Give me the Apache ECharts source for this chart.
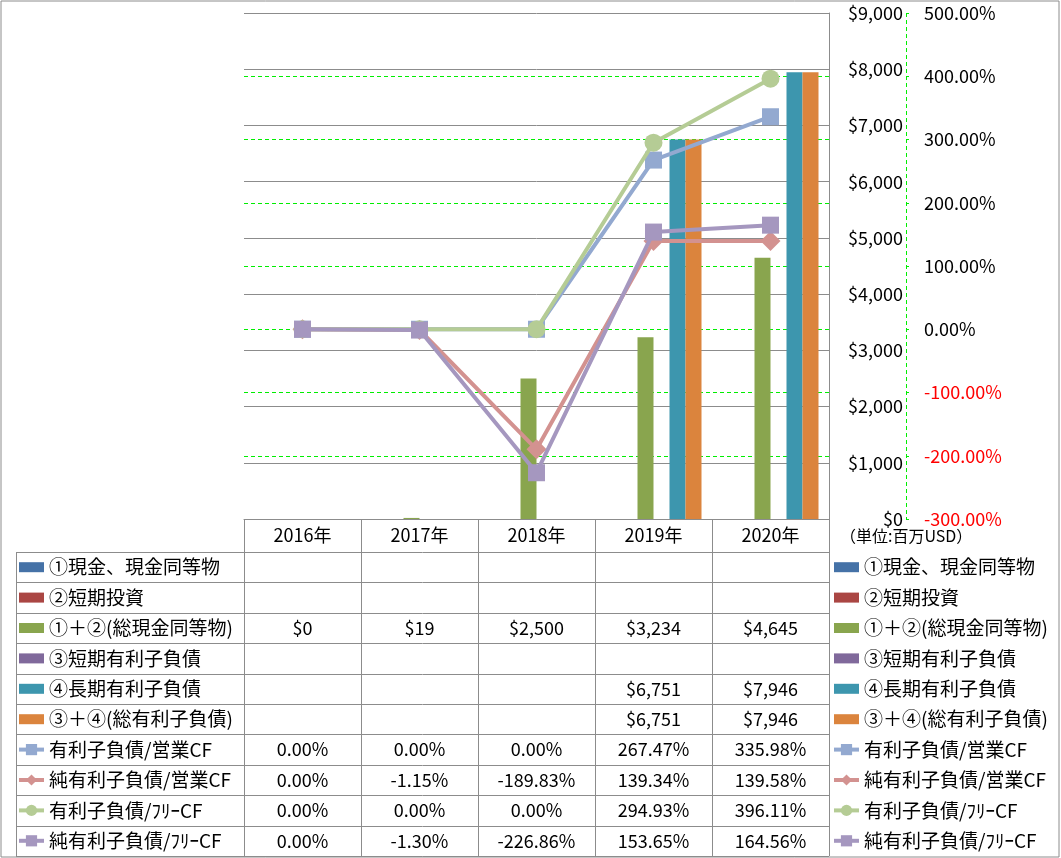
<!DOCTYPE html>
<html>
<head>
<meta charset="utf-8">
<script src="https://cdn.jsdelivr.net/npm/echarts@6/dist/echarts.min.js"></script>
<style>
html,body{margin:0;padding:0;background:#fff;}
#c{width:1061px;height:858px;}
</style>
</head>
<body>
<div id="c"></div>
<script>
// ---- data ----
const years = ['2016年', '2017年', '2018年', '2019年', '2020年'];
const barNames = ['①現金、現金同等物', '②短期投資', '①＋②(総現金同等物)', '③短期有利子負債', '④長期有利子負債', '③＋④(総有利子負債)'];
const cashEq = [null, null, null, null, null];
const shortInv = [null, null, null, null, null];
const totalCash = [0, 19, 2500, 3234, 4645];
const shortDebt = [null, null, null, null, null];
const longDebt = [null, null, null, 6751, 7946];
const totalDebt = [null, null, null, 6751, 7946];
const lineNames = ['有利子負債/営業CF', '純有利子負債/営業CF', '有利子負債/ﾌﾘｰCF', '純有利子負債/ﾌﾘｰCF'];
const debtOpCF = [0, 0, 0, 267.47, 335.98];
const netDebtOpCF = [0, -1.15, -189.83, 139.34, 139.58];
const debtFreeCF = [0, 0, 0, 294.93, 396.11];
const netDebtFreeCF = [0, -1.30, -226.86, 153.65, 164.56];
const unitLabel = '（単位:百万USD）';

// ---- styles ----
const FONT = "'Noto Sans CJK JP', 'Noto Sans', sans-serif";
const barColors = ['#4572A7', '#AA4643', '#89A54E', '#80699B', '#3D96AE', '#DB843D'];
const lineColors = ['#93A9D0', '#D39290', '#B5CC95', '#A597BF'];
const lineSymbols = ['rect', 'diamond', 'circle', 'rect'];
const lineSymbolSizes = [17, 20, 18, 17];

const barData = [cashEq, shortInv, totalCash, shortDebt, longDebt, totalDebt];
const lineData = [debtOpCF, netDebtOpCF, debtFreeCF, netDebtFreeCF];

const fmtDollar = v => '$' + v.toLocaleString('en-US');
const fmtPct = v => v.toFixed(2) + '%';

const tableRows = barData.map(d => d.map(v => v == null ? null : fmtDollar(v)))
  .concat(lineData.map(d => d.map(v => v == null ? null : fmtPct(v))));

const gridLeft = 244, gridRight = 829, gridTop = 13, gridBottom = 519;
const secOffset = 77;
const headerH = 33, rowH = 30.4;
const tableTop = gridBottom + headerH;
const tableBottom = tableTop + rowH * tableRows.length;

const series = [];
barNames.forEach((n, i) => {
  series.push({
    name: n, type: 'bar', yAxisIndex: 0, data: barData[i],
    barWidth: 16, barGap: '0%',
    itemStyle: { color: barColors[i] }, z: 2
  });
});
lineNames.forEach((n, i) => {
  series.push({
    name: n, type: 'line', yAxisIndex: 1, data: lineData[i],
    symbol: lineSymbols[i], symbolSize: lineSymbolSizes[i], showAllSymbol: true,
    lineStyle: { color: lineColors[i], width: 4 },
    itemStyle: { color: lineColors[i] },
    z: 5 + i
  });
});

const legendData = barNames.map(n => ({ name: n, icon: 'path://M0,0H25V10H0Z' }))
  .concat(lineNames.map((n, i) => ({ name: n, lineStyle: { width: 4, color: lineColors[i] } })));
const legendBase = {
  orient: 'vertical', top: tableTop, itemGap: 0, itemWidth: 25, itemHeight: 14,
  padding: 0, height: 330,
  selectedMode: false, data: legendData,
  textStyle: { fontFamily: FONT, fontSize: 19, color: '#000', lineHeight: rowH }
};

const graphics = [];
// outer border
graphics.push({ type: 'rect', shape: { x: 1, y: 1, width: 1058, height: 856 }, style: { fill: null, stroke: '#8c8c8c', lineWidth: 1 }, silent: true });
// table horizontal lines
for (let k = 0; k <= tableRows.length; k++) {
  const y = Math.round(tableTop + rowH * k) + 0.5;
  graphics.push({ type: 'line', shape: { x1: 16, y1: y, x2: gridRight, y2: y }, style: { stroke: '#8c8c8c', lineWidth: 1 }, silent: true });
}
graphics.push({ type: 'line', shape: { x1: 16.5, y1: tableTop, x2: 16.5, y2: tableBottom }, style: { stroke: '#8c8c8c', lineWidth: 1 }, silent: true });
// secondary axis line (dashed), drawn as short segments
const axX = gridRight + secOffset + 0.5;
for (let y = gridTop; y < gridBottom; y += 7) {
  graphics.push({ type: 'line', z: 10, shape: { x1: axX, y1: y, x2: axX, y2: Math.min(y + 4, gridBottom) }, style: { stroke: '#00ee00', lineWidth: 1 }, silent: true });
}

const option = {
  animation: false,
  textStyle: { fontFamily: FONT },
  title: { text: unitLabel, left: 840, top: 528, padding: 0, textStyle: { fontFamily: FONT, fontSize: 16, fontWeight: 'normal', color: '#000' } },
  grid: { left: gridLeft, right: 1061 - gridRight, top: gridTop, bottom: 858 - gridBottom },
  legend: [
    Object.assign({}, legendBase, { left: 17 }),
    Object.assign({}, legendBase, { left: 832 })
  ],
  xAxis: {
    type: 'category', data: years, boundaryGap: true,
    axisLine: { show: true, lineStyle: { color: '#8c8c8c', width: 1 } },
    axisTick: { show: true, interval: 0, length: tableBottom - gridBottom, lineStyle: { color: '#8c8c8c' } },
    axisLabel: {
      interval: 0, margin: 0, color: '#000',
      formatter: (value, index) => {
        const lines = ['{h|' + value + '}'];
        tableRows.forEach(r => lines.push('{c|' + (r[index] == null ? ' ' : r[index]) + '}'));
        return lines.join('\n');
      },
      rich: {
        h: { fontFamily: FONT, fontSize: 18, lineHeight: headerH, color: '#000' },
        c: { fontFamily: FONT, fontSize: 18, lineHeight: rowH, color: '#000' }
      }
    },
    splitLine: { show: false }
  },
  yAxis: [
    {
      type: 'value', position: 'right', min: 0, max: 9000, interval: 1000,
      axisLine: { show: true, lineStyle: { color: '#8c8c8c' } },
      axisTick: { show: false },
      axisLabel: { align: 'right', margin: 74, fontFamily: FONT, fontSize: 18, color: '#000', formatter: v => fmtDollar(v) },
      splitLine: { show: true, lineStyle: { color: '#8c8c8c', width: 1 } }
    },
    {
      type: 'value', position: 'right', offset: secOffset, min: -300, max: 500, interval: 100,
      axisLine: { show: false },
      axisTick: { show: true, length: 3, inside: false, lineStyle: { color: '#00ee00' } },
      axisLabel: {
        margin: 18,
        formatter: v => (v < 0 ? '{n|' : '{p|') + fmtPct(v) + '}',
        rich: {
          p: { fontFamily: FONT, fontSize: 18, color: '#000' },
          n: { fontFamily: FONT, fontSize: 18, color: '#ff0000' }
        }
      },
      splitLine: { show: true, showMinLine: false, showMaxLine: false, lineStyle: { color: '#00ee00', type: [4, 3], width: 1 } }
    }
  ],
  series: series,
  graphic: graphics
};

const chart = echarts.init(document.getElementById('c'), null, { renderer: 'canvas' });
chart.setOption(option);
</script>
</body>
</html>
